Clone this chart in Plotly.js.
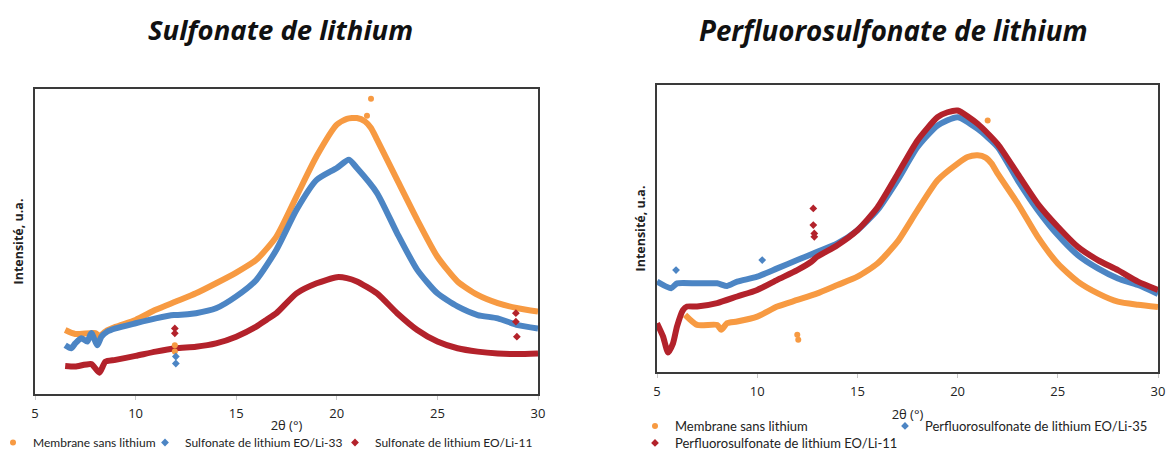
<!DOCTYPE html>
<html>
<head>
<meta charset="utf-8">
<script src="https://cdn.plot.ly/plotly-3.0.1.min.js"></script>
<style>html,body{margin:0;padding:0;background:#fff;}#chart{width:1166px;height:452px;}</style>
</head>
<body>
<div id="chart"></div>
<script>
// ---------- Left panel: Sulfonate de lithium ----------
var sulfMembraneX = [6.5,7,8,8.2,8.5,9,10,11,12,13,14,15,16,17,18,19,20,20.5,21,21.4,21.7,22,23,24,25,26,27,28,29,30];
var sulfMembraneY = [21,19.7,20,19,20.5,22,24.3,27.6,30.3,33,36.3,39.8,44,51.6,64.8,78,88.3,90.2,90.5,89.4,87.2,83.4,70.2,57.1,45,36.9,32.5,29.8,28.1,27];
var sulfMembraneOutX = [11.95,11.95,21.5,21.7];
var sulfMembraneOutY = [16,13.9,91.2,96.8];

var sulf33X = [6.5,6.8,7,7.3,7.6,7.8,8.1,8.3,8.6,9,10,11,11.9,12.1,13,14,15,16,17,18,19,20,20.6,21,22,23,24,25,26,27,28,29,30];
var sulf33Y = [16,15,16.6,18.3,17.2,20,16,18.8,20.5,21.5,23.2,24.8,25.9,25.9,26.5,28.1,32,37.4,47.3,60.4,70.2,74.1,76.8,74.1,65.9,52.7,40.7,33,28.7,25.9,24.8,22.6,21.5];
var sulf33OutX = [12,12];
var sulf33OutY = [12.3,10];

var sulf11X = [6.5,7,7.8,8.2,8.5,9,10,11,12,13,14,15,16,16.5,17,18,19,20,20.5,21,22,23,24,25,26,27,28,29,30];
var sulf11Y = [9.2,9,9.8,7,10.6,11.2,12.5,13.9,15,15.5,16.6,18.8,22.1,24.3,26.5,33,36.3,38.3,38,36.9,33,26.5,21,17.2,15,13.9,13.3,13.1,13.3];
var sulf11OutX = [11.95,11.95,28.9,28.9,28.95];
var sulf11OutY = [21.5,19.9,26.5,23.7,18.8];

// ---------- Right panel: Perfluorosulfonate de lithium ----------
var pfMembraneX = [6.4,7,8,8.2,8.5,9,10,11,12,13,14,15,16,17,18,19,20,20.5,21,21.4,21.7,22,23,24,25,26,27,28,29,30];
var pfMembraneY = [19.9,16.4,16.4,14.7,17,17.6,19.3,22.8,25.1,27.4,30.3,33.2,37.8,45.4,56.4,66.8,72.6,74.9,75.5,74.7,72.6,69.1,58.7,47.1,37.8,31.5,27.4,24.5,23.4,22.6];
var pfMembraneOutX = [12,12.05,21.5];
var pfMembraneOutY = [13,11.2,87.6];

var pf35X = [5,5.7,6,7,8,8.5,9,10,11,12,13,14,15,16,17,18,19,20,21,22,23,24,25,26,27,28,29,30];
var pf35Y = [31.5,29.2,30.9,30.9,30.9,30,31.5,33.2,36.1,39,41.9,44.8,49.4,56.4,66.8,78.4,85.9,88.8,84.7,78.4,66.8,56.4,47.7,40.7,36.1,32.6,30.3,27.2];
var pf35OutX = [5.95,10.25];
var pf35OutY = [35.5,39];

var pf11X = [5,5.3,5.55,5.8,6,6.3,6.5,7,8,9,10,11,12,12.7,13,14,15,16,17,18,19,19.5,20,21,22,23,24,25,26,27,28,29,30];
var pf11Y = [17,12.4,6.8,10,15.9,21.6,22.8,22.8,24,26.3,28.6,32.1,35.5,38.4,40.2,44.2,49.4,57.3,68.9,80.7,88.8,90.5,91.1,86.5,79.4,69,58.6,50.6,43.6,39,35.5,31.5,28.6];
var pf11OutX = [12.8,12.8,12.85,12.85];
var pf11OutY = [57,51.2,48.3,47.1];

var xTickVals = [5,10,15,20,25,30];
var xTickText = ['5','10','15','20','25','30'];

var cOrange = '#F79A42', cBlue = '#4C85C4', cRed = '#B3222B';
var FONT = '"Open Sans", Lato, sans-serif';
var LEGFONT = 'Lato, "Open Sans", sans-serif';

function lineTrace(x, y, color, xa, ya) {
  return {x: x, y: y, xaxis: xa, yaxis: ya, type: 'scatter', mode: 'lines',
    line: {color: color, width: 6, shape: 'spline', smoothing: 0.6},
    showlegend: false, hoverinfo: 'skip'};
}
function markTrace(x, y, color, sym, name, xa, ya, leg, lw) {
  var t = {x: x, y: y, xaxis: xa, yaxis: ya, type: 'scatter', mode: 'markers', name: name,
    marker: {color: color, size: 6, symbol: sym}, legend: leg};
  if (lw) t.legendwidth = lw;
  return t;
}

var data = [
  lineTrace(sulfMembraneX, sulfMembraneY, cOrange, 'x', 'y'),
  lineTrace(sulf33X, sulf33Y, cBlue, 'x', 'y'),
  lineTrace(sulf11X, sulf11Y, cRed, 'x', 'y'),
  markTrace(sulfMembraneOutX, sulfMembraneOutY, cOrange, 'circle', 'Membrane sans lithium', 'x', 'y', 'legend', 107),
  markTrace(sulf33OutX, sulf33OutY, cBlue, 'diamond', 'Sulfonate de lithium EO/Li-33', 'x', 'y', 'legend', 145),
  markTrace(sulf11OutX, sulf11OutY, cRed, 'diamond', 'Sulfonate de lithium EO/Li-11', 'x', 'y', 'legend'),

  lineTrace(pfMembraneX, pfMembraneY, cOrange, 'x2', 'y2'),
  lineTrace(pf35X, pf35Y, cBlue, 'x2', 'y2'),
  lineTrace(pf11X, pf11Y, cRed, 'x2', 'y2'),
  markTrace(pfMembraneOutX, pfMembraneOutY, cOrange, 'circle', 'Membrane sans lithium', 'x2', 'y2', 'legend2', 205),
  markTrace(pf35OutX, pf35OutY, cBlue, 'diamond', 'Perfluorosulfonate de lithium EO/Li-35', 'x2', 'y2', 'legend2'),
  markTrace(pf11OutX, pf11OutY, cRed, 'diamond', 'Perfluorosulfonate de lithium EO/Li-11', 'x2', 'y2', 'legend3')
];

function xAxis(domain, anchor) {
  return {domain: domain, anchor: anchor, range: [5, 30], tickvals: xTickVals, ticktext: xTickText,
    ticks: 'outside', ticklen: 4, tickcolor: '#c8c8c8', ticklabelstandoff: 2, ticklabeloverflow: 'allow',
    showline: true, mirror: true,
    linecolor: '#3a3a3a', linewidth: 2, showgrid: false, zeroline: false,
    tickfont: {family: FONT, size: 13, color: '#222'}};
}
function yAxis(domain, anchor) {
  return {domain: domain, anchor: anchor, range: [0, 100], showticklabels: false, ticks: '',
    showline: true, mirror: true, linecolor: '#3a3a3a', linewidth: 2, showgrid: false, zeroline: false,
    title: {text: 'Intensité, u.a.', font: {family: FONT, size: 12.5, color: '#222', weight: 'bold'}, standoff: 7}};
}

var W = 1166, H = 452;
var xa1 = xAxis([35/W, 538/W], 'y');
xa1.title = {text: '2θ (°)', font: {family: FONT, size: 13, color: '#222'}, standoff: 0};
var xa2 = xAxis([657/W, 1158/W], 'y2');
xa2.title = {text: '2θ (°)', font: {family: FONT, size: 13, color: '#222'}, standoff: 11};

var legFontL = {family: LEGFONT, size: 12, color: '#222'};
var legFontR = {family: LEGFONT, size: 13, color: '#222'};
var layout = {
  width: W, height: H,
  margin: {l: 0, r: 0, t: 0, b: 0, autoexpand: false},
  paper_bgcolor: '#fff', plot_bgcolor: '#fff',
  showlegend: true,
  xaxis: xa1, yaxis: yAxis([(H-394)/H, (H-89)/H], 'x'),
  xaxis2: xa2, yaxis2: yAxis([(H-372)/H, (H-85)/H], 'x2'),
  legend: {orientation: 'h', x: -7/W, xanchor: 'left', y: (H-428)/H, yanchor: 'top', font: legFontL, bgcolor: 'rgba(0,0,0,0)', itemwidth: 30},
  legend2: {orientation: 'h', x: 635/W, xanchor: 'left', y: (H-411)/H, yanchor: 'top', font: legFontR, bgcolor: 'rgba(0,0,0,0)', itemwidth: 30},
  legend3: {orientation: 'h', x: 635/W, xanchor: 'left', y: (H-428)/H, yanchor: 'top', font: legFontR, bgcolor: 'rgba(0,0,0,0)', itemwidth: 30},
  annotations: [
    {text: 'Sulfonate de lithium', xref: 'paper', yref: 'paper', x: 280/W, y: (H-30)/H, xanchor: 'center', yanchor: 'middle', showarrow: false,
     font: {family: FONT, size: 27.5, color: '#111', weight: 'bold', style: 'italic'}},
    {text: 'Perfluorosulfonate de lithium', xref: 'paper', yref: 'paper', x: 893/W, y: (H-30)/H, xanchor: 'center', yanchor: 'middle', showarrow: false,
     font: {family: FONT, size: 27.7, color: '#111', weight: 'bold', style: 'italic'}}
  ]
};

Plotly.newPlot('chart', data, layout, {displayModeBar: false, staticPlot: true});
</script>
</body>
</html>
